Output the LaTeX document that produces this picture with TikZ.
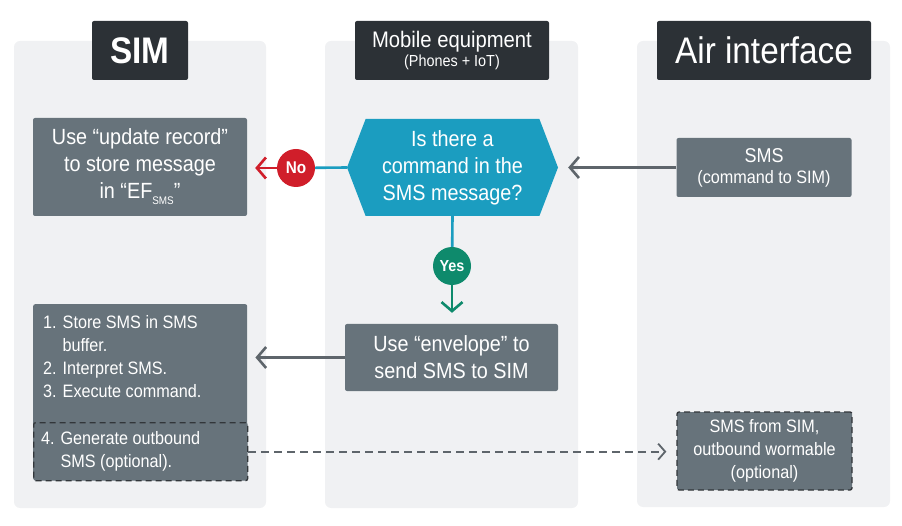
\documentclass[tikz,border=0pt]{standalone}
\usepackage{fontspec}
\setmainfont[FakeStretch=0.9]{Liberation Sans}
\usetikzlibrary{arrows.meta,shapes.symbols}

\definecolor{panelbg}{RGB}{240,241,243}
\definecolor{titlebg}{RGB}{44,49,54}
\definecolor{boxgray}{RGB}{103,115,123}
\definecolor{tealq}{RGB}{27,157,192}
\definecolor{redno}{RGB}{208,30,42}
\definecolor{greenyes}{RGB}{14,138,108}
\definecolor{arrowgray}{RGB}{94,101,107}
\definecolor{dashgray}{RGB}{50,54,58}

\newcommand\fsbig{\fontsize{37}{40}\selectfont}
\newcommand\fshead{\fontsize{22.5}{24}\selectfont}
\newcommand\fsbody{\fontsize{22}{27}\selectfont}
\newcommand\fssmall{\fontsize{18}{23}\selectfont}
\newcommand\fsmini{\fontsize{16}{18}\selectfont}

\tikzset{
  panel/.style={fill=panelbg, rounded corners=6pt},
  title/.style={fill=titlebg, text=white, rounded corners=2pt, minimum height=59pt, inner sep=0pt, align=center},
  box/.style={fill=boxgray, text=white, rounded corners=2pt, inner sep=0pt, align=center},
  optbox/.style={box, draw=dashgray, line width=1.3pt, dash pattern=on 6pt off 4pt},
  tag/.style={circle, minimum size=38pt, inner sep=0pt, text=white, font=\fontsize{17}{17}\selectfont\bfseries},
  flow/.style={draw=arrowgray, line width=2.6pt, -{Straight Barb[length=9pt,width=21pt]}},
}

\begin{document}
\begin{tikzpicture}[x=1pt,y=-1pt]
\useasboundingbox (0,0) rectangle (902,526);

% columns
\fill[panel] (14,41) rectangle (266,508);
\fill[panel] (325,41) rectangle (578,508);
\fill[panel] (637,41) rectangle (890,507);

% column titles
\node (simt) [title, minimum width=96pt, font=\fsbig\bfseries] at (140,50.5) {SIM};
\node (met) [title, minimum width=194pt, font=\fshead] at (452,50.5) {Mobile equipment\\[-5pt]{\fsmini (Phones + IoT)}};
\node (airt) [title, minimum width=214pt, font=\fsbig] at (764,50.5) {Air interface};

% boxes
\node (upd) [box, minimum width=214pt, minimum height=98pt, font=\fsbody] at (140,167)
  {Use “update record”\\to store message\\in “EF\raisebox{-6pt}{\fontsize{11}{11}\selectfont SMS}”};
\node (q) [shape=signal, signal to=east and west, signal pointer angle=138, fill=tealq, text=white,
  minimum width=211pt, minimum height=97pt, inner sep=0pt, align=center, font=\fsbody] at (452.5,167.5)
  {Is there a\\command in the\\SMS message?};
\node (sms) [box, minimum width=175pt, minimum height=59pt, font=\fssmall] at (764,167.5)
  {{\fontsize{20}{22}\selectfont SMS}\\[-2pt](command to SIM)};
\node (env) [box, minimum width=213pt, minimum height=67pt, font=\fsbody] at (451.5,357.5)
  {Use “envelope” to\\send SMS to SIM};

\node (steps) [box, anchor=north west, minimum width=214pt, minimum height=176pt] at (33,304) {};
\node (steplist) [anchor=north west, inner sep=0pt, text=white, font=\fssmall] at (43,312)
  {\begin{tabular}{@{}l@{ }l@{}}1.&Store SMS in SMS\\&buffer.\\2.&Interpret SMS.\\3.&Execute command.\end{tabular}};
\node (gen) [optbox, anchor=north west, minimum width=214pt, minimum height=58pt, font=\fssmall] at (33,422)
  {\begin{tabular}{@{}l@{ }l@{}}4.&Generate outbound\\&SMS (optional).\end{tabular}\hspace{40pt}};
\node (out) [optbox, minimum width=175pt, minimum height=78pt, font=\fssmall] at (764.5,451)
  {SMS from SIM,\\outbound wormable\\(optional)};

% answers
\node (no) [tag, fill=redno] at (296,168) {No};
\node (yes) [tag, fill=greenyes, font=\fontsize{16}{16}\selectfont\bfseries] at (452,266) {Yes};

% connectors
\draw[flow, shorten >=10pt] (sms.west) -- (q.east);
\draw[tealq, line width=2.6pt] (q.west) -- (no);
\draw[redno, line width=2.6pt, -{Straight Barb[length=9pt,width=21pt]}, shorten >=8pt] (no) -- (no -| upd.east);
\draw[tealq, line width=2.6pt] (q.south) -- (yes);
\draw[greenyes, line width=2.6pt, -{Straight Barb[length=9pt,width=21pt]}, shorten >=11pt] (yes) -- (yes |- env.north);
\draw[flow, shorten >=8pt] (env.west) -- (env.west -| steps.east);
\draw[draw=arrowgray, line width=1.8pt, dash pattern=on 8pt off 5pt, -{Straight Barb[length=7pt,width=16pt]}, shorten >=10pt]
  (gen.east) -- (gen.east -| out.west);

\end{tikzpicture}
\end{document}
